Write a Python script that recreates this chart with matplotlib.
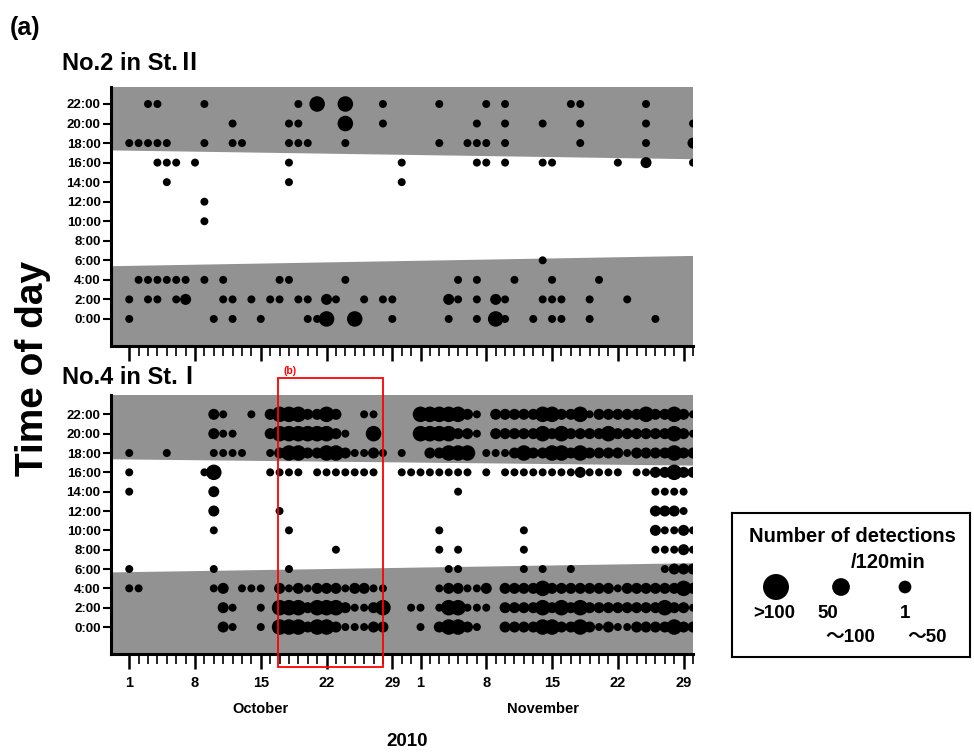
import matplotlib
matplotlib.use("Agg")
import matplotlib.pyplot as plt
from matplotlib.patches import Rectangle
from matplotlib import font_manager

W, H = 974, 752

# day index: 0 = Oct 1 ... 30 = Oct 31, 31 = Nov 1 ... 60 = Nov 30
hours = [22, 20, 18, 16, 14, 12, 10, 8, 6, 4, 2, 0]
major_days = [0, 7, 14, 21, 28, 31, 38, 45, 52, 59]
major_labels = ["1", "8", "15", "22", "29", "1", "8", "15", "22", "29"]
months = ["October", "November"]
month_days = [14, 44]

# detections per 2 h slot, "<day><size>": s = 1~50, m = 50~100, L = >100
st2 = {
    22: "2s 3s 8s 18s 20L 23L 27s 33s 38s 40s 47s 48s 55s",
    20: "11s 17s 18s 23L 27s 37s 40s 44s 48s 55s 60s",
    18: "0s 1s 2s 3s 4s 8s 11s 12s 17s 18s 19s 23s 33s 36s 37s 38s 40s 48s 55s 60m",
    16: "3s 4s 5s 7s 17s 29s 37s 38s 40s 44s 45s 52s 55m 60s",
    14: "4s 17s 29s",
    12: "8s",
    10: "8s",
    6: "44s",
    4: "1s 2s 3s 4s 5s 6s 8s 10s 16s 17s 23s 35s 37s 41s 45s 50s",
    2: "0s 2s 3s 5s 6m 10s 11s 13s 15s 16s 18s 19s 21m 22s 25s 27s 28s 34m 35s "
       "37s 39m 40s 44s 45s 46s 49s 53s",
    0: "0s 9s 11s 14s 19s 20s 21L 24L 28s 34s 37s 39L 40s 43s 45s 46s 49s 56s",
}
st1 = {
    22: "9m 10s 13s 15m 16L 17L 18L 19m 20m 21L 22m 25s 26s 31L 32L 33L 34L 35L 36m "
        "37s 39m 40m 41m 42m 43m 44L 45L 46m 47m 48L 49s 50m 51m 52m 53m 54m 55L "
        "56m 57m 58L 59m 60s",
    20: "9m 10s 11s 15m 16L 17L 18L 19L 20L 21L 22m 23s 26L 31L 32L 33L 34L 35m 36m "
        "37s 39m 40m 41m 42m 43m 44L 45m 46L 47m 48m 49m 50m 51L 52m 53m 54m 55m "
        "56m 57m 58L 59m 60s",
    18: "0s 4s 9s 10s 11s 12s 15s 16m 17L 18L 19m 20m 21L 22L 23m 24s 25s 26m 27s "
        "29s 32m 33m 34L 35L 36L 38s 39s 40s 41m 42L 43m 44m 45L 46L 47m 48L 49m "
        "50m 51m 52m 53s 54m 55m 56m 57m 58L 59m 60m",
    16: "0s 8s 9L 15s 16s 17s 18s 20s 21s 22s 23s 24s 25s 26s 29s 30s 31s 32s 33s "
        "34s 35s 36s 38s 40s 41s 42s 43s 44s 45s 46s 47s 48m 49s 50s 51s 52s 54s "
        "55s 56m 57m 58L 59m 60m",
    14: "0s 9m 35s 56s 57s 58s 59s",
    12: "9m 16s 56m 57m 58m 59s",
    10: "9s 17s 33s 42s 56m 57s 58s 59m 60s",
    8: "22s 33s 35s 42s 56s 57s 58s 59m 60s",
    6: "0s 9s 17s 34s 35s 42s 44s 47s 57s 58m 59m 60m",
    4: "0s 1s 9s 10m 12s 13s 14s 16m 17s 18m 19s 20m 21m 22m 23s 24m 25m 26s 27s "
       "33s 34m 35m 36s 37s 38m 40m 41m 42m 43m 44L 45m 46m 47m 48m 49m 50m 51m "
       "52s 53m 54m 55m 56m 57m 58m 59L 60m",
    2: "10m 11s 14s 16L 17L 18L 19m 20L 21L 22L 23m 24s 25s 26m 27L 30s 31s 33s "
       "34L 35L 36s 37s 38s 40m 41m 42m 43m 44L 45m 46L 47m 48L 49m 50m 51m 52m "
       "53m 54m 55m 56m 57L 58m 59m 60s",
    0: "10m 11s 14s 16L 17L 18L 19m 20L 21L 22m 23s 24s 25s 26m 27m 31s 33m 34L "
       "35L 36m 37s 40m 41m 42m 43m 44L 45L 46m 47m 48L 49m 50s 51m 52s 53s 54m "
       "55m 56m 57m 58L 59m 60m",
}

# sunrise / sunset (hour) at the left and right edge of each panel
sunrise_st2 = [5.45, 6.5]
sunset_st2 = [17.3, 16.4]
sunrise_st1 = [5.7, 6.65]
sunset_st1 = [17.4, 16.75]

legend_labels = [">100", "50", "1"]
legend_labels2 = ["～100", "～50"]

GREY = "#929292"
size_pt = {"s": 33, "m": 63, "L": 125}

names = {f.name for f in font_manager.fontManager.ttflist}
NARROW = "Liberation Sans Narrow" if "Liberation Sans Narrow" in names else "Liberation Sans"
FAM = ["Liberation Sans", "Noto Sans CJK JP", "DejaVu Sans"]
plt.rcParams["font.family"] = FAM


def fx(px):
    return px / W


def fy(py):
    return 1 - py / H


def parse(rows):
    xs, ys, ss = [], [], []
    for hr, txt in rows.items():
        for tok in txt.split():
            xs.append(int(tok[:-1]))
            ys.append(hr)
            ss.append(size_pt[tok[-1]])
    return xs, ys, ss


def panel(rect, rows, sunrise, sunset, ylim, show_xlabels):
    ax = fig.add_axes(rect)
    xlim = (-1.94, 60.0)
    ax.set_facecolor(GREY)
    ax.fill_between(xlim, sunrise, sunset, color="white", lw=0, zorder=0.5)
    xs, ys, ss = parse(rows)
    ax.scatter(xs, ys, s=ss, c="black", linewidths=0, zorder=3)
    ax.set_xlim(*xlim)
    ax.set_ylim(*ylim)

    ax.set_yticks(hours)
    ax.set_yticklabels([f"{h}:00" for h in hours], fontsize=9.5, fontweight="bold")
    ax.set_xticks(range(61), minor=True)
    ax.set_xticks(major_days)
    if show_xlabels:
        ax.set_xticklabels(major_labels, fontsize=10.5, fontweight="bold", family=NARROW)
    else:
        ax.set_xticklabels([])
    ax.tick_params(axis="x", which="major", direction="out", length=11, width=1.8, pad=5)
    ax.tick_params(axis="x", which="minor", direction="out", length=7, width=1.2)
    ax.tick_params(axis="y", direction="out", length=5.5, width=1.5, pad=2)
    for side in ("top", "right"):
        ax.spines[side].set_visible(False)
    for side in ("left", "bottom"):
        ax.spines[side].set_linewidth(2.2)
    return ax


fig = plt.figure(figsize=(W / 100, H / 100), dpi=100)

ax_top = panel([fx(111), fy(346), fx(693) - fx(111), (346 - 87) / H], st2,
               sunrise_st2, sunset_st2, (-2.77, 23.74), False)
ax_bot = panel([fx(111), fy(654), fx(693) - fx(111), (654 - 395) / H], st1,
               sunrise_st1, sunset_st1, (-2.79, 24.0), True)

# highlighted period (b)
ax_bot.add_patch(Rectangle((15.8, -4.1), 11.2, 29.85, fill=False, edgecolor="red",
                           lw=1.3, clip_on=False, zorder=5))
fig.text(fx(290), fy(371), "(b)", color="red", fontsize=7.5, fontweight="bold",
         ha="center", va="center")

# month and year labels
for m, d in zip(months, month_days):
    xfig = ax_bot.transData.transform((d, 0))[0] / fig.dpi / fig.get_figwidth()
    fig.text(xfig, fy(709), m, fontsize=10.5, fontweight="bold", family=NARROW,
             ha="center", va="center")
fig.text(fx(407), fy(741), "2010", fontsize=13.5, fontweight="bold", family=NARROW,
         ha="center", va="center")

fig.text(fx(10), fy(28), "(a)", fontsize=18, fontweight="bold", ha="left", va="center")
fig.text(fx(62), fy(63), "No.2 in St.Ⅱ", fontsize=17, fontweight="bold",
         ha="left", va="center")
fig.text(fx(62), fy(377), "No.4 in St.Ⅰ", fontsize=17, fontweight="bold",
         ha="left", va="center")
fig.text(fx(33), fy(368), "Time of day", fontsize=28, fontweight="bold",
         rotation=90, ha="center", va="center")

# legend box
lax = fig.add_axes([fx(732), fy(657), (970 - 732) / W, (657 - 513) / H])
lax.set_xlim(732, 970)
lax.set_ylim(657, 513)
lax.set_xticks([])
lax.set_yticks([])
for sp in lax.spines.values():
    sp.set_linewidth(1.5)
lax.scatter([776, 841, 905], [587, 587, 587], s=[350, 163, 84], c="black", linewidths=0)
lax.text(852, 537, "Number of detections", fontsize=14.5, fontweight="bold",
         ha="center", va="center")
lax.text(888, 562, "/120min", fontsize=14.5, fontweight="bold", ha="center", va="center")
lax.text(774, 613, legend_labels[0], fontsize=13.5, fontweight="bold", ha="center", va="center")
lax.text(817, 613, legend_labels[1], fontsize=13.5, fontweight="bold", ha="left", va="center")
lax.text(905, 613, legend_labels[2], fontsize=13.5, fontweight="bold", ha="center", va="center")
lax.text(850, 637, legend_labels2[0], fontsize=13.5, fontweight="bold", ha="center", va="center")
lax.text(927, 637, legend_labels2[1], fontsize=13.5, fontweight="bold", ha="center", va="center")

fig.savefig("out.png", dpi=100)
